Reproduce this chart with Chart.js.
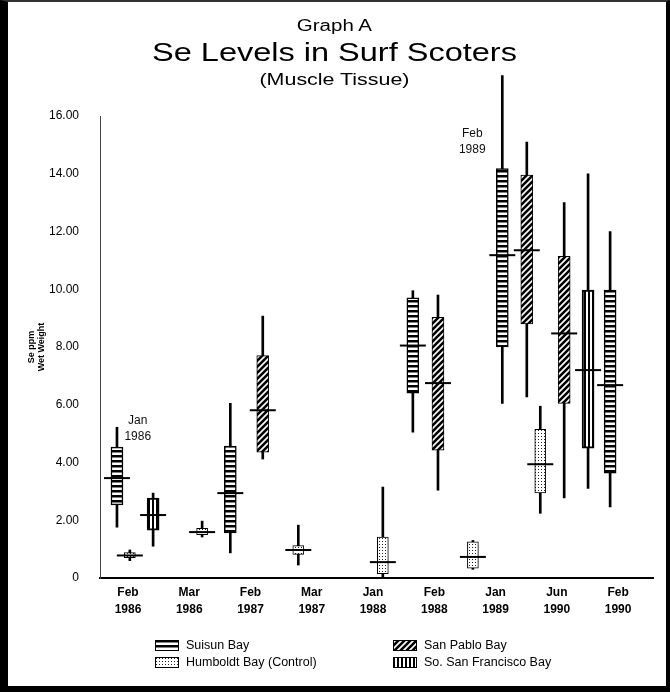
<!DOCTYPE html>
<html>
<head>
<meta charset="utf-8">
<title>Se Levels in Surf Scoters</title>
<script src="https://cdn.jsdelivr.net/npm/chart.js@4/dist/chart.umd.min.js"></script>
<style>
  html, body { margin: 0; padding: 0; background: #fff; }
  #wrap { position: relative; width: 670px; height: 692px; overflow: hidden; font-family: "Liberation Sans", Arial, sans-serif; color: #000; }
  #chart { position: absolute; left: 0; top: 0; }
  #frame { position: absolute; left: 0; top: 0; width: 670px; height: 692px; box-sizing: border-box;
           border-left: 8px solid #000; border-top: 2px solid #333; border-right: 4px solid #000; border-bottom: 6px solid #000; pointer-events: none; }
  .t { position: absolute; left: 0; width: 670px; text-align: center; white-space: nowrap; transform-origin: 337px 0; }
  #graph { top: 18px; font-size: 16px; line-height: 16px; transform: scaleX(1.28); }
  #main { top: 39px; font-size: 26px; line-height: 26px; transform: scaleX(1.25); }
  #sub { top: 71px; font-size: 17px; line-height: 17px; transform: scaleX(1.26); }
  .leg { position: absolute; display: flex; align-items: center; font-size: 12.5px; line-height: 14px; white-space: nowrap; }
  .leg canvas { margin-right: 7px; }
</style>
</head>
<body>
<div id="wrap">
  <canvas id="chart" width="670" height="692"></canvas>
  <div class="t" id="graph">Graph A</div>
  <div class="t" id="main">Se Levels in Surf Scoters</div>
  <div class="t" id="sub">(Muscle Tissue)</div>
  <div class="leg" style="left:155px; top:638px;"><canvas id="sw0" width="24" height="11"></canvas>Suisun Bay</div>
  <div class="leg" style="left:393px; top:638px;"><canvas id="sw1" width="24" height="11"></canvas>San Pablo Bay</div>
  <div class="leg" style="left:155px; top:655px;"><canvas id="sw2" width="24" height="11"></canvas>Humboldt Bay (Control)</div>
  <div class="leg" style="left:393px; top:655px;"><canvas id="sw3" width="24" height="11"></canvas>So. San Francisco Bay</div>
  <div id="frame"></div>
</div>
<script>
// sampling periods (tick labels on the x axis)
const categories = ['Feb 1986', 'Mar 1986', 'Feb 1987', 'Mar 1987', 'Jan 1988', 'Feb 1988', 'Jan 1989', 'Jun 1990', 'Feb 1990'];

// Suisun Bay: where each box sits on the period axis, then min / box low / mean / box high / max
const suisunAt   = [-0.18, 1.67, 4.65, 6.11, 7.87];
const suisunMin  = [1.76, 0.87, 5.05, 6.05, 2.46];
const suisunLow  = [2.53, 1.56, 6.40, 8.00, 3.63];
const suisunMean = [3.46, 2.94, 8.05, 11.18, 6.68];
const suisunHigh = [4.53, 4.57, 9.70, 14.18, 9.97];
const suisunMax  = [5.22, 6.05, 9.95, 17.40, 12.00];

// San Pablo Bay
const pabloAt   = [2.20, 5.06, 6.51, 7.12];
const pabloMin  = [4.12, 3.04, 6.27, 2.77];
const pabloLow  = [4.36, 4.43, 8.80, 6.05];
const pabloMean = [5.81, 6.75, 11.35, 8.47];
const pabloHigh = [7.70, 9.03, 13.95, 11.14];
const pabloMax  = [9.07, 9.80, 15.10, 13.00];

// Humboldt Bay (Control)
const humboldtAt   = [0.03, 1.21, 2.78, 4.16, 5.63, 6.73];
const humboldtMin  = [0.60, 1.42, 0.45, 0.00, 0.30, 2.24];
const humboldtLow  = [0.70, 1.50, 0.82, 0.15, 0.34, 2.95];
const humboldtMean = [0.78, 1.59, 0.97, 0.55, 0.73, 3.94];
const humboldtHigh = [0.88, 1.72, 1.12, 1.42, 1.25, 5.15];
const humboldtMax  = [0.97, 1.97, 1.83, 3.15, 1.30, 5.95];

// So. San Francisco Bay
const southAt   = [0.41, 7.51];
const southMin  = [1.10, 3.10];
const southLow  = [1.66, 4.50];
const southMean = [2.18, 7.20];
const southHigh = [2.77, 9.97];
const southMax  = [2.94, 14.00];

// notes written next to two of the boxes
const noteText = [['Jan', '1986'], ['Feb', '1989']];
const noteX = [0.16, 5.62];
const noteY = [5.44, 15.38];

const FONT = '"Liberation Sans", Arial, sans-serif';

// fill patterns standing in for the hatching of the original
function makePattern(ctx, kind) {
    const c = document.createElement('canvas');
    const g = c.getContext('2d');
    if (kind === 'h') {
        c.width = 4; c.height = 5;
        g.fillStyle = '#fff'; g.fillRect(0, 0, 4, 5);
        g.fillStyle = '#000'; g.fillRect(0, 0, 4, 2.5);
    } else if (kind === 'd') {
        c.width = 6; c.height = 6;
        g.fillStyle = '#fff'; g.fillRect(0, 0, 6, 6);
        g.strokeStyle = '#000'; g.lineWidth = 2.6;
        g.beginPath();
        g.moveTo(-1, 7); g.lineTo(7, -1);
        g.moveTo(-4, 4); g.lineTo(4, -4);
        g.moveTo(2, 10); g.lineTo(10, 2);
        g.stroke();
    } else if (kind === 'dot') {
        c.width = 3; c.height = 3;
        g.fillStyle = '#fff'; g.fillRect(0, 0, 3, 3);
        g.fillStyle = '#222'; g.fillRect(1, 1, 1, 1);
    } else {
        c.width = 4; c.height = 4;
        g.fillStyle = '#fff'; g.fillRect(0, 0, 4, 4);
        g.fillStyle = '#000'; g.fillRect(0, 0, 2, 4);
    }
    return ctx.createPattern(c, 'repeat');
}

const ctx = document.getElementById('chart').getContext('2d');

// one whisker, one box and one mean mark per sample
function bayDatasets(name, at, min, low, mean, high, max, kind, border, thick) {
    return [
        {
            type: 'bar', label: name + ' range',
            data: at.map((v, i) => ({ x: v, y: [min[i], max[i]] })),
            backgroundColor: '#000', borderWidth: 0,
            grouped: false, barThickness: 2,
            order: 3, clip: false
        },
        {
            type: 'bar', label: name,
            data: at.map((v, i) => ({ x: v, y: [low[i], high[i]] })),
            backgroundColor: makePattern(ctx, kind), borderColor: '#000', borderWidth: border, borderSkipped: false,
            grouped: false, barThickness: thick,
            order: 2, clip: false
        },
        {
            type: 'scatter', label: name + ' mean',
            data: at.map((v, i) => ({ x: v, y: mean[i] })),
            pointStyle: 'line', pointRadius: 13, pointBorderColor: '#000', pointBorderWidth: 2,
            order: 1, clip: false
        }
    ];
}

const notePlugin = {
    id: 'notes',
    afterDatasetsDraw(chart) {
        const { ctx, scales: { x, y } } = chart;
        ctx.save();
        ctx.font = '12px ' + FONT;
        ctx.fillStyle = '#111';
        ctx.textAlign = 'center';
        ctx.textBaseline = 'middle';
        noteText.forEach((lines, i) => {
            const px = x.getPixelForValue(noteX[i]);
            const py = y.getPixelForValue(noteY[i]);
            lines.forEach((s, k) => ctx.fillText(s, px, py + k * 16));
        });
        ctx.restore();
    }
};

new Chart(ctx, {
    type: 'bar',
    data: {
        datasets: [
            ...bayDatasets('Suisun Bay', suisunAt, suisunMin, suisunLow, suisunMean, suisunHigh, suisunMax, 'h', 1.5, 12),
            ...bayDatasets('San Pablo Bay', pabloAt, pabloMin, pabloLow, pabloMean, pabloHigh, pabloMax, 'd', 1, 12),
            ...bayDatasets('Humboldt Bay (Control)', humboldtAt, humboldtMin, humboldtLow, humboldtMean, humboldtHigh, humboldtMax, 'dot', 1, 11),
            ...bayDatasets('So. San Francisco Bay', southAt, southMin, southLow, southMean, southHigh, southMax, 'v', 2, 12)
        ]
    },
    options: {
        responsive: false,
        animation: false,
        events: [],
        layout: { padding: { left: 0, top: 116, right: 17, bottom: 64 } },
        plugins: { legend: { display: false }, tooltip: { enabled: false } },
        scales: {
            x: {
                type: 'linear', min: -0.457, max: 8.57, offset: false,
                grid: { display: false, drawTicks: false, offset: false },
                border: { display: true, color: '#000', width: 2 },
                afterBuildTicks: s => { s.ticks = categories.map((c, i) => ({ value: i })); },
                afterFit: s => { s.height = 50; },
                ticks: {
                    autoSkip: false, maxRotation: 0, padding: 6, color: '#000',
                    font: { family: FONT, size: 12, weight: 'bold', lineHeight: 1.4 },
                    callback: v => categories[v] ? categories[v].split(' ') : ''
                }
            },
            y: {
                min: 0, max: 16,
                grid: { display: false, drawTicks: false },
                border: { display: true, color: '#444', width: 1, dash: [1, 2] },
                afterFit: s => { s.width = 100; },
                ticks: {
                    stepSize: 2, padding: 21, color: '#000',
                    font: { family: FONT, size: 12 },
                    callback: v => v === 0 ? '0' : v.toFixed(2)
                },
                title: {
                    display: true, text: ['Se ppm', 'Wet Weight'], color: '#000',
                    font: { family: FONT, size: 9, weight: 'bold', lineHeight: 1.1 },
                    padding: { top: 27, bottom: 0 }
                }
            }
        }
    },
    plugins: [notePlugin]
});

// legend swatches with the same fills
['h', 'd', 'dot', 'v'].forEach((kind, i) => {
    const sw = document.getElementById('sw' + i).getContext('2d');
    sw.fillStyle = makePattern(sw, kind);
    sw.fillRect(0, 0, 24, 11);
    sw.strokeStyle = '#000';
    sw.lineWidth = 1;
    sw.strokeRect(0.5, 0.5, 23, 10);
});
</script>
</body>
</html>
